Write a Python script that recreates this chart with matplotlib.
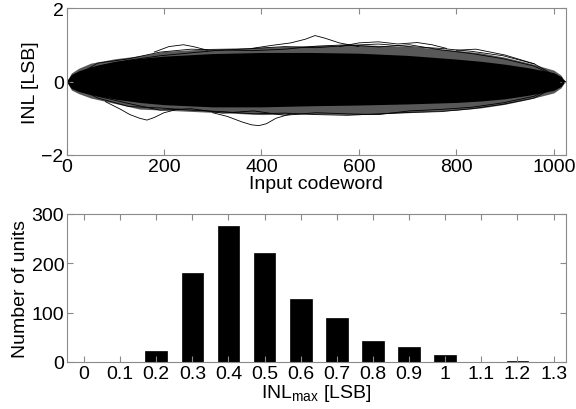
import matplotlib
matplotlib.use("Agg")
import matplotlib.pyplot as plt

plt.rcParams['font.family'] = ['Liberation Sans', 'DejaVu Sans']
plt.rcParams['mathtext.fontset'] = 'custom'
plt.rcParams['mathtext.rm'] = 'Liberation Sans'
plt.rcParams['mathtext.it'] = 'Liberation Sans'

# ---- top panel: INL envelope ----
env_codes = [0, 10, 25, 50, 100, 150, 200, 300, 400, 500, 600, 700, 800, 850, 900, 950, 1000, 1015, 1023]
core_hi = [0, 0.19, 0.29, 0.40, 0.55, 0.63, 0.69, 0.76, 0.79, 0.79, 0.77, 0.71, 0.61, 0.55, 0.47, 0.37, 0.24, 0.13, 0]
core_lo = [0, -0.19, -0.27, -0.36, -0.48, -0.57, -0.63, -0.69, -0.69, -0.66, -0.64, -0.61, -0.57, -0.53, -0.47, -0.37, -0.24, -0.13, 0]
outer_hi = [0, 0.23, 0.36, 0.50, 0.62, 0.70, 0.82, 0.90, 0.93, 0.98, 1.00, 0.96, 0.85, 0.78, 0.66, 0.50, 0.31, 0.17, 0]
outer_lo = [0, -0.23, -0.33, -0.45, -0.60, -0.75, -0.78, -0.84, -0.90, -0.88, -0.90, -0.85, -0.78, -0.72, -0.62, -0.48, -0.31, -0.17, 0]

fringe_codes = [0, 64, 128, 192, 256, 320, 384, 448, 512, 576, 640, 704, 768, 832, 896, 960, 1023]
fringe_u1 = [0, 0.50, 0.62, 0.80, 0.88, 0.85, 0.90, 0.95, 0.92, 0.98, 1.02, 0.95, 0.90, 0.82, 0.70, 0.48, 0]
fringe_u2 = [0, 0.42, 0.58, 0.70, 0.78, 0.86, 0.84, 0.88, 0.96, 1.00, 0.94, 1.00, 0.86, 0.76, 0.62, 0.42, 0]
fringe_l1 = [0, -0.45, -0.68, -0.72, -0.78, -0.82, -0.88, -0.86, -0.90, -0.92, -0.88, -0.84, -0.82, -0.74, -0.62, -0.45, 0]
fringe_l2 = [0, -0.40, -0.60, -0.78, -0.74, -0.86, -0.80, -0.92, -0.85, -0.88, -0.90, -0.80, -0.76, -0.70, -0.58, -0.40, 0]

trace1_codes = [380, 420, 460, 490, 510, 530, 560, 600]
trace1_vals = [0.90, 0.98, 1.05, 1.15, 1.25, 1.18, 1.05, 0.95]
trace2_codes = [300, 330, 360, 380, 395, 410, 430, 460]
trace2_vals = [-0.85, -0.95, -1.10, -1.18, -1.20, -1.15, -1.00, -0.88]
trace3_codes = [80, 110, 130, 150, 165, 180, 200, 230]
trace3_vals = [-0.55, -0.75, -0.90, -1.00, -1.05, -0.98, -0.85, -0.75]
trace4_codes = [180, 210, 240, 260, 290]
trace4_vals = [0.80, 0.95, 1.00, 0.95, 0.85]
trace5_codes = [560, 600, 640, 680, 720, 750, 780]
trace5_vals = [0.95, 1.05, 1.08, 1.02, 1.06, 1.00, 0.90]
trace6_codes = [800, 840, 870, 900, 930, 960]
trace6_vals = [0.85, 0.88, 0.80, 0.72, 0.60, 0.48]

top_xticks = [0, 200, 400, 600, 800, 1000]
top_yticks = [-2, 0, 2]

# ---- bottom panel: histogram of INL_max ----
bins = [0, 0.1, 0.2, 0.3, 0.4, 0.5, 0.6, 0.7, 0.8, 0.9, 1.0, 1.1, 1.2, 1.3]
counts = [0, 1, 22, 180, 276, 221, 127, 89, 42, 30, 15, 1, 2, 0]
bin_labels = ['0', '0.1', '0.2', '0.3', '0.4', '0.5', '0.6', '0.7', '0.8', '0.9', '1', '1.1', '1.2', '1.3']
bot_yticks = [0, 100, 200, 300]

fig = plt.figure(figsize=(5.76, 4.10), dpi=100)
ax1 = fig.add_axes([66.5/576, 1-156/410, (565.5-66.5)/576, (156-9)/410])
ax2 = fig.add_axes([67/576, 1-363/410, (565.5-67)/576, (363-215)/410])

spine_c = '#8a8a8a'
fs = 14

ax1.fill_between(env_codes, outer_lo, outer_hi, color='#585858', lw=0)
for f in (fringe_u1, fringe_u2, fringe_l1, fringe_l2):
    ax1.plot(fringe_codes, f, color='black', lw=0.6)
ax1.fill_between(env_codes, core_lo, core_hi, color='black', lw=0)
for c, v in [(trace1_codes, trace1_vals), (trace2_codes, trace2_vals), (trace3_codes, trace3_vals),
             (trace4_codes, trace4_vals), (trace5_codes, trace5_vals), (trace6_codes, trace6_vals)]:
    ax1.plot(c, v, color='black', lw=0.6)
ax1.set_xlim(0, 1024)
ax1.set_ylim(-2, 2)
ax1.set_xticks(top_xticks)
ax1.set_yticks(top_yticks)
ax1.set_xlabel('Input codeword', fontsize=fs, labelpad=0)
ax1.set_ylabel('INL [LSB]', fontsize=fs, labelpad=2)

ax2.bar(bins, counts, width=0.06, color='black', edgecolor='black', lw=0.5)
ax2.set_xlim(-0.047, 1.333)
ax2.set_ylim(0, 300)
ax2.set_xticks(bins)
ax2.set_xticklabels(bin_labels)
ax2.set_yticks(bot_yticks)
ax2.set_xlabel(r'INL$_{\mathrm{max}}$ [LSB]', fontsize=fs, labelpad=0)
ax2.set_ylabel('Number of units', fontsize=fs, labelpad=2)

for ax in (ax1, ax2):
    for s in ax.spines.values():
        s.set_color(spine_c)
        s.set_linewidth(0.8)
    ax.tick_params(direction='in', length=4, width=0.8, color=spine_c, labelsize=fs,
                   top=True, right=True, pad=2)

fig.savefig('out.png', dpi=100, facecolor='white')
